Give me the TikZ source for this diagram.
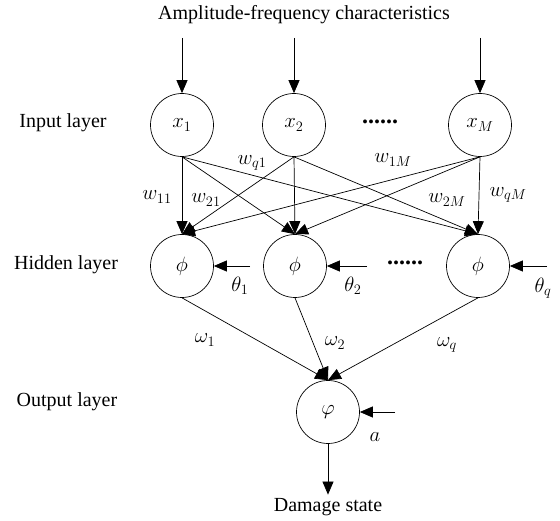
\documentclass[tikz,border=0pt]{standalone}
\usepackage{fontspec}
\setmainfont{Liberation Serif}
\usetikzlibrary{arrows.meta}
\tikzset{
  neuron/.style={
    circle,
    draw=black,
    minimum size=63pt,
    inner sep=0pt
    },
  wlabel/.style={
    inner sep=1pt
    },
  dotsrow/.style={
    font=\fontsize{24}{28}\selectfont\bfseries
    },
}

\begin{document}
\begin{tikzpicture}[
            x = 1pt, y = -1pt, % one unit per pixel, y downwards
            > = {Triangle[length=13pt,width=11pt]}, % arrow head style
            font = \fontsize{20}{24}\selectfont,
            line width = 0.7pt % line style
        ]
  \useasboundingbox (0,0) rectangle (560,521);

  \node (title) at (304,15) {Amplitude-frequency characteristics};

  % input layer
  \node (inl) at (63,123) {Input layer};
  \node[neuron] (x1) at (182,125) {$x_1$};
  \node[neuron] (x2) at (294,125) {$x_2$};
  \node[neuron] (xM) at (480,125) {$x_M$};
  \node[dotsrow] (xdots) at (380,122) {......};

  \coordinate (s1) at (182,38);
  \coordinate (s2) at (294,38);
  \coordinate (sM) at (480,38);
  \draw[->] (s1) -- (x1);
  \draw[->] (s2) -- (x2);
  \draw[->] (sM) -- (xM);

  % hidden layer
  \node (hidl) at (66,265) {Hidden layer};
  \node[neuron] (h1) at (182,266) {$\phi$};
  \node[neuron] (h2) at (295,266) {$\phi$};
  \node[neuron] (hq) at (478,266) {$\phi$};
  \node[dotsrow] (hdots) at (405,263) {......};

  \foreach \s in {x1,x2,xM}
    \foreach \t in {h1,h2,hq}
      \draw[->] (\s.south) -- (\t.north);

  \node[wlabel] (w11) at (157,197) {$w_{11}$};
  \node[wlabel] (w21) at (206,200) {$w_{21}$};
  \node[wlabel] (wq1) at (252,163) {$w_{q1}$};
  \node[wlabel] (w1M) at (393,160) {$w_{1M}$};
  \node[wlabel] (w2M) at (447,200) {$w_{2M}$};
  \node[wlabel] (wqM) at (508,195) {$w_{qM}$};

  % thresholds
  \coordinate (b1) at (250,266);
  \coordinate (b2) at (367,266);
  \coordinate (bq) at (547,266);
  \draw[->] (b1) -- (h1);
  \draw[->] (b2) -- (h2);
  \draw[->] (bq) -- (hq);
  \node (t1) at (240,286) {$\theta_1$};
  \node (t2) at (353,286) {$\theta_2$};
  \node (tq) at (543,288) {$\theta_q$};

  % output layer
  \node (outl) at (67,402) {Output layer};
  \node[neuron] (y) at (328,412) {$\varphi$};
  \foreach \t in {h1,h2,hq}
    \draw[->] (\t.south) -- (y.north);
  \node[wlabel] (o1) at (205,340) {$\omega_1$};
  \node[wlabel] (o2) at (335,343) {$\omega_2$};
  \node[wlabel] (oq) at (447,345) {$\omega_q$};

  \coordinate (ba) at (395,412);
  \draw[->] (ba) -- (y);
  \node (a) at (375,437) {$a$};

  \node (dmg) at (328,507) {Damage state};
  \draw[->] (y) -- (dmg.north);
\end{tikzpicture}
\end{document}
